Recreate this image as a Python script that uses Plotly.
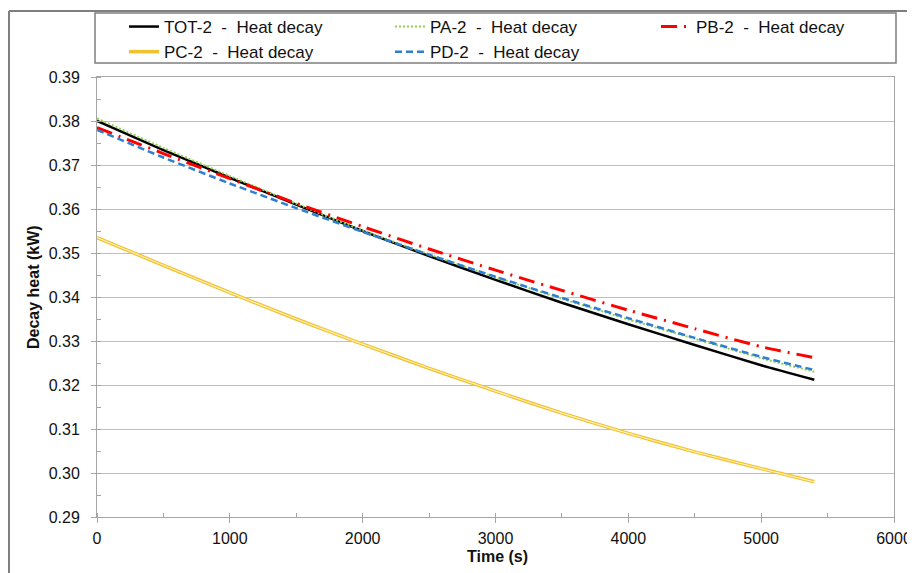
import plotly.graph_objects as go

# ---- data ----
TIME = [0, 500, 1000, 1500, 2000, 2500, 3000, 3500, 4000, 4500, 5000, 5400]
TOT2 = [0.3800, 0.3734, 0.3671, 0.3610, 0.3550, 0.3493, 0.3439, 0.3387, 0.3338, 0.3291, 0.3245, 0.3212]
PA2 = [0.3806, 0.3739, 0.3675, 0.3612, 0.3551, 0.3497, 0.3445, 0.3396, 0.3349, 0.3305, 0.3261, 0.3230]
PB2 = [0.3785, 0.3726, 0.3669, 0.3613, 0.3560, 0.3509, 0.3461, 0.3415, 0.3370, 0.3328, 0.3287, 0.3262]
PC2 = [0.3535, 0.3472, 0.3410, 0.3350, 0.3293, 0.3238, 0.3186, 0.3136, 0.3090, 0.3048, 0.3010, 0.2980]
PD2 = [0.3780, 0.3717, 0.3658, 0.3602, 0.3548, 0.3496, 0.3446, 0.3398, 0.3352, 0.3307, 0.3264, 0.3234]

NB = "\u00a0"
def lab(s):
    return s + NB + NB + "-" + NB + NB + "Heat decay"

FONT = "Liberation Sans, Arial, sans-serif"
# page has an 8px body margin, so the figure is 8px smaller and all positions shift by 8
OFF = 8
W, H = 915 - OFF, 573 - OFF
L, R, T, B = 89, 21, 69, 56

fig = go.Figure()
fig.add_trace(go.Scatter(x=TIME, y=TOT2, name=lab("TOT-2"), mode="lines",
                         line=dict(color="#000000", width=2.5, shape="spline", smoothing=0.5)))
fig.add_trace(go.Scatter(x=TIME, y=PA2, name=lab("PA-2"), mode="lines",
                         line=dict(color="#92D050", width=2, dash="2px,2px", shape="spline", smoothing=0.5)))
fig.add_trace(go.Scatter(x=TIME, y=PB2, name=lab("PB-2"), mode="lines",
                         line=dict(color="#FF0000", width=3, dash="16px,7px,2px,7px", shape="spline", smoothing=0.5)))
fig.add_trace(go.Scatter(x=TIME, y=PC2, name=lab("PC-2"), mode="lines", legendgroup="pc",
                         line=dict(color="#F2C12E", width=3.5, shape="spline", smoothing=0.5)))
fig.add_trace(go.Scatter(x=TIME, y=PC2, name=lab("PC-2"), mode="lines", legendgroup="pc",
                         showlegend=False, hoverinfo="skip",
                         line=dict(color="#FFF0B3", width=1.2, shape="spline", smoothing=0.5)))
fig.add_trace(go.Scatter(x=TIME, y=PD2, name=lab("PD-2"), mode="lines",
                         line=dict(color="#2E7FD0", width=2.5, dash="7px,4px", shape="spline", smoothing=0.5)))

pw = W - L - R
ph = H - T - B
def px2x(px):  # px given in page pixels
    return (px - OFF - L) / pw
def py2y(py):
    return 1 - (py - OFF - T) / ph

fig.update_layout(
    width=W, height=H,
    margin=dict(l=L, r=R, t=T, b=B, pad=0, autoexpand=False),
    paper_bgcolor="white", plot_bgcolor="white",
    font=dict(family=FONT, size=16, color="#111111"),
    showlegend=True,
    legend=dict(orientation="h", x=px2x(124), xanchor="left", y=py2y(9), yanchor="top",
                entrywidth=221, entrywidthmode="pixels", traceorder="normal",
                font=dict(family=FONT, size=17, color="#111111"),
                bgcolor="rgba(0,0,0,0)", borderwidth=0, itemwidth=30, tracegroupgap=0),
    xaxis=dict(range=[0, 6000], dtick=1000, tick0=0, showgrid=False, zeroline=False,
               showline=True, linecolor="#A6A6A6", linewidth=1, mirror=True,
               ticks="outside", ticklen=5, tickcolor="#A6A6A6",
               minor=dict(dtick=500, ticks="inside", ticklen=4, tickcolor="#A6A6A6", showgrid=False),
               tickfont=dict(family=FONT, size=16), ticklabelstandoff=2),
    yaxis=dict(range=[0.29, 0.39], dtick=0.01, tick0=0.29, tickformat=".2f",
               showgrid=True, gridcolor="#BFBFBF", gridwidth=1, zeroline=False,
               showline=True, linecolor="#A6A6A6", linewidth=1, mirror=True,
               ticks="outside", ticklen=5, tickcolor="#A6A6A6",
               minor=dict(dtick=0.005, ticks="inside", ticklen=4, tickcolor="#A6A6A6", showgrid=False),
               tickfont=dict(family=FONT, size=16), ticklabelstandoff=8),
    shapes=[
        # legend frame
        dict(type="rect", xref="paper", yref="paper", x0=px2x(95), x1=px2x(896),
             y0=py2y(63), y1=py2y(13), line=dict(color="#7F7F7F", width=1.5), fillcolor="rgba(0,0,0,0)"),
        # outer chart frame (left and top edges visible)
        dict(type="line", xref="paper", yref="paper", x0=px2x(9), x1=px2x(9),
             y0=py2y(580), y1=py2y(11), line=dict(color="#7F7F7F", width=2)),
        dict(type="line", xref="paper", yref="paper", x0=px2x(9), x1=px2x(920),
             y0=py2y(11), y1=py2y(11), line=dict(color="#7F7F7F", width=2)),
    ],
    annotations=[
        dict(text="<b>Time (s)</b>", xref="paper", yref="paper", x=px2x(497), y=py2y(556),
             xanchor="center", yanchor="middle", showarrow=False,
             font=dict(family=FONT, size=16, color="#111111")),
        dict(text="<b>Decay heat (kW)</b>", xref="paper", yref="paper", x=px2x(33), y=py2y(287),
             xanchor="center", yanchor="middle", showarrow=False, textangle=-90,
             font=dict(family=FONT, size=16, color="#111111")),
    ],
)

fig.write_html("out.html")
